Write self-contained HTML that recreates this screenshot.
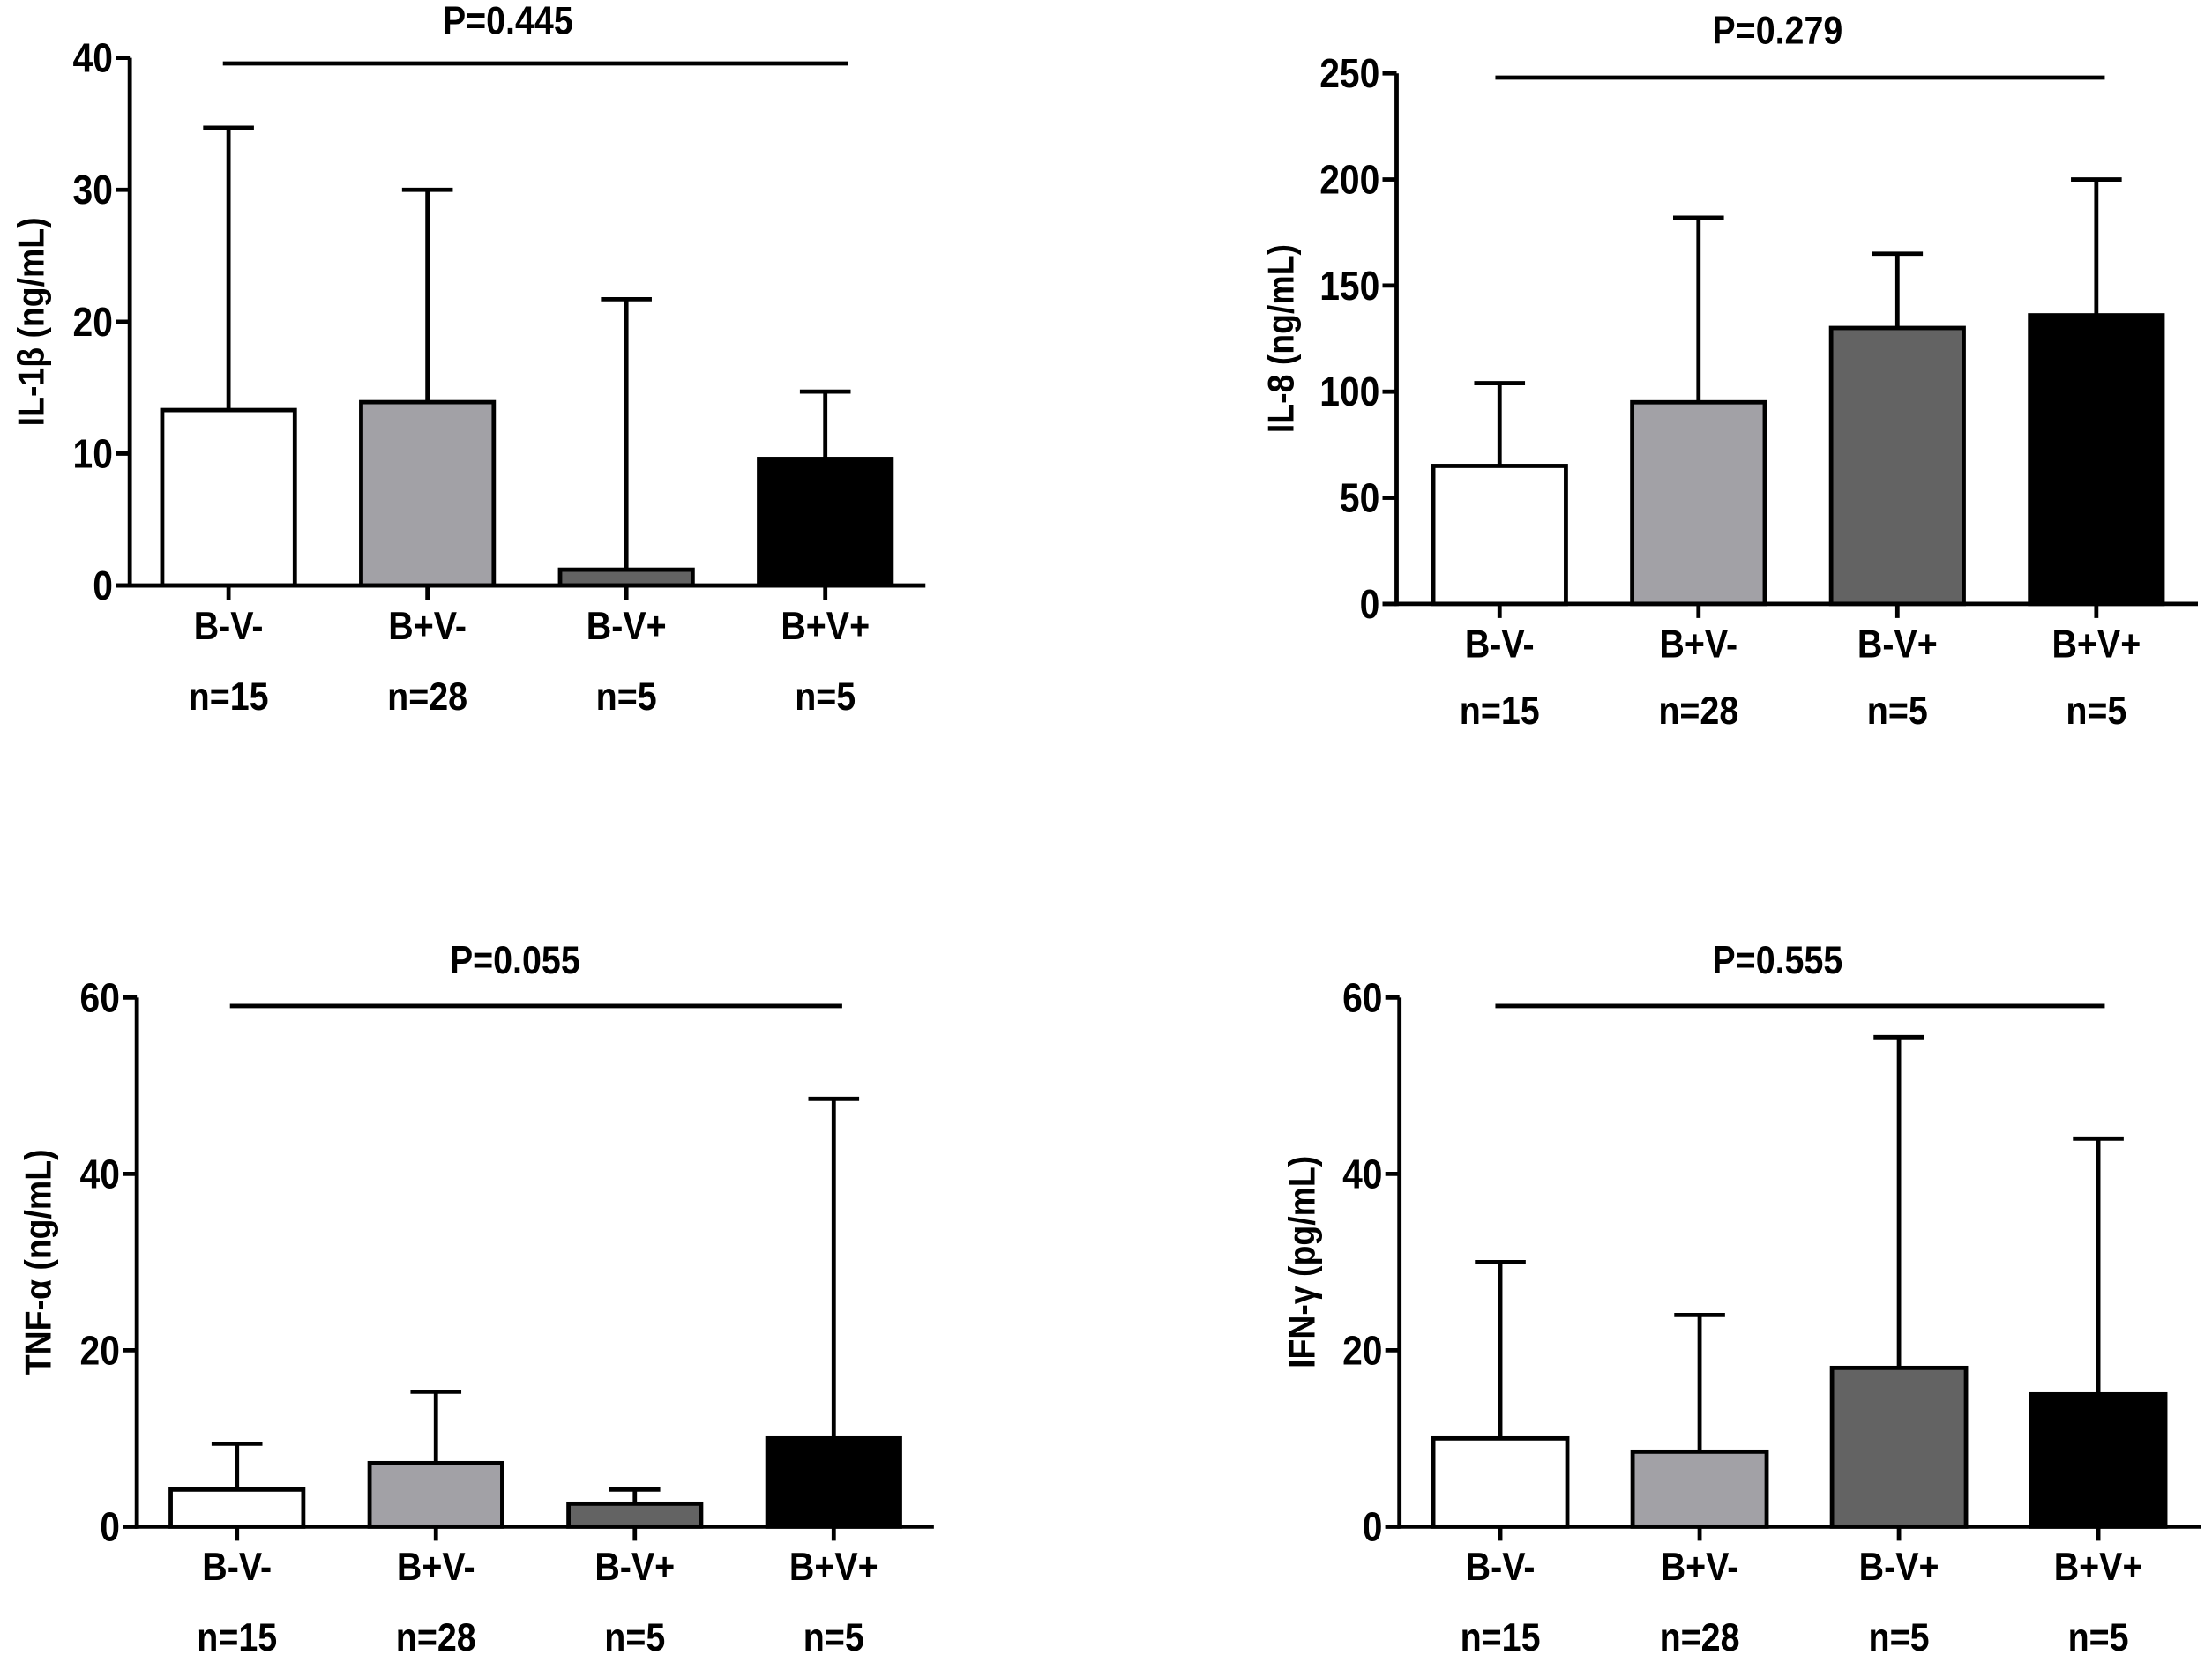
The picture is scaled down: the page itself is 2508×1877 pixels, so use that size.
<!DOCTYPE html>
<html><head><meta charset="utf-8"><style>
html,body{margin:0;padding:0;background:#fff;}
svg{display:block;}
text{font-family:"Liberation Sans",Arial,sans-serif;font-weight:bold;fill:#000;}
</style></head><body>
<svg id="fig" width="2508" height="1877" viewBox="0 0 1568 1173" preserveAspectRatio="none" xmlns="http://www.w3.org/2000/svg"></svg>
<script>
const categories = ["B-V-","B+V-","B-V+","B+V+"];
const counts = ["n=15","n=28","n=5","n=5"];
const fills = ["#ffffff","#a2a1a6","#636363","#000000"];
const il1bMean = [13.3, 13.9, 1.2, 9.6];
const il1bErr = [34.7, 30.0, 21.7, 14.7];
const il1bTicks = [0,10,20,30,40];
const il8Mean = [65, 95, 130, 136];
const il8Err = [104, 182, 165, 200];
const il8Ticks = [0,50,100,150,200,250];
const tnfMean = [4.2, 7.2, 2.6, 10.0];
const tnfErr = [9.4, 15.3, 4.2, 48.5];
const tnfTicks = [0,20,40,60];
const ifnMean = [10.0, 8.5, 18.0, 15.0];
const ifnErr = [30.0, 24.0, 55.5, 44.0];
const ifnTicks = [0,20,40,60];
const pValues = ["P=0.445","P=0.279","P=0.055","P=0.555"];
const yTitles = ["IL-1β  (ng/mL)","IL-8  (ng/mL)","TNF-α  (ng/mL)","IFN-γ  (pg/mL)"];

const NS="http://www.w3.org/2000/svg";
const svg=document.getElementById('fig');
function mk(tag,attrs,parent){const e=document.createElementNS(NS,tag);for(const k in attrs)e.setAttribute(k,attrs[k]);(parent||svg).appendChild(e);return e;}
const SX=0.88;
function txt(g,x,y,anchor,size,str,extra){
  const t=mk('text',{x:x/SX,y:y,'text-anchor':anchor,'font-size':size,transform:`scale(${SX} 1)`},g);
  t.textContent=str;
  return t;
}

const panels=[
 {mean:il1bMean,err:il1bErr,ticks:il1bTicks,ax:92,top:41,bot:415,right:656,barL:115,pitch:141,bw:94,titleX:22,pY:14,lineY:45,lineL:158,lineR:601,pX:360,lblY:443,nY:493},
 {mean:il8Mean,err:il8Err,ticks:il8Ticks,ax:990,top:52,bot:428,right:1558,barL:1016,pitch:141,bw:94,titleX:908,pY:21,lineY:55,lineL:1060,lineR:1492,pX:1260,lblY:456,nY:503},
 {mean:tnfMean,err:tnfErr,ticks:tnfTicks,ax:97,top:707,bot:1082,right:662,barL:121,pitch:141,bw:94,titleX:27,pY:680,lineY:713,lineL:163,lineR:597,pX:365,lblY:1110,nY:1160},
 {mean:ifnMean,err:ifnErr,ticks:ifnTicks,ax:992,top:707,bot:1082,right:1560,barL:1016,pitch:141.3,bw:95,titleX:923,pY:680,lineY:713,lineL:1060,lineR:1492,pX:1260,lblY:1110,nY:1160}
];

panels.forEach((p,pi)=>{
  const g=mk('g',{});
  
  
  const max=p.ticks[p.ticks.length-1];
  const y=v=>p.bot-(v/max)*(p.bot-p.top);
  p.mean.forEach((m,i)=>{
    const x0=p.barL+i*p.pitch, cx=x0+p.bw/2;
    const eb=mk('line',{x1:cx,x2:cx,y1:y(m),y2:y(p.err[i]),stroke:'#000','stroke-width':3},g);
    
    
    const cap=mk('line',{x1:cx-18,x2:cx+18,y1:y(p.err[i]),y2:y(p.err[i]),stroke:'#000','stroke-width':3},g);
    
    
    const r=mk('rect',{x:x0,y:y(m),width:p.bw,height:p.bot-y(m),fill:fills[i],stroke:'#000','stroke-width':3},g);
    
    
    const tk=mk('line',{x1:cx,x2:cx,y1:p.bot,y2:p.bot+10,stroke:'#000','stroke-width':3},g);
    
    
    const t=txt(g,cx,p.lblY+10,'middle',28,categories[i]);
    
    
    const n=txt(g,cx,p.nY+10,'middle',28,counts[i]);
    
    
  });
  const ya=mk('line',{x1:p.ax,x2:p.ax,y1:p.top,y2:p.bot+1.5,stroke:'#000','stroke-width':3},g);
  
  
  const xa=mk('line',{x1:p.ax-10,x2:p.right,y1:p.bot,y2:p.bot,stroke:'#000','stroke-width':3},g);
  
  
  p.ticks.forEach(v=>{
    const tl=mk('line',{x1:p.ax-10,x2:p.ax,y1:y(v),y2:y(v),stroke:'#000','stroke-width':3},g);
    
    
    const tt=txt(g,p.ax-12,y(v)+10,'end',29,String(v));
    
    
  });
  const cy=(p.top+p.bot)/2;
  const yt=mk('text',{x:0,y:0,'text-anchor':'middle','font-size':26,transform:`translate(${p.titleX+9} ${cy}) rotate(-90) scale(0.9 1)`},g);
  yt.textContent=yTitles[pi];
  
  
  const sl=mk('line',{x1:p.lineL,x2:p.lineR,y1:p.lineY,y2:p.lineY,stroke:'#000','stroke-width':3},g);
  
  
  const pt=txt(g,p.pX,p.pY+10,'middle',28,pValues[pi]);
  
  
});
</script>
</body></html>
